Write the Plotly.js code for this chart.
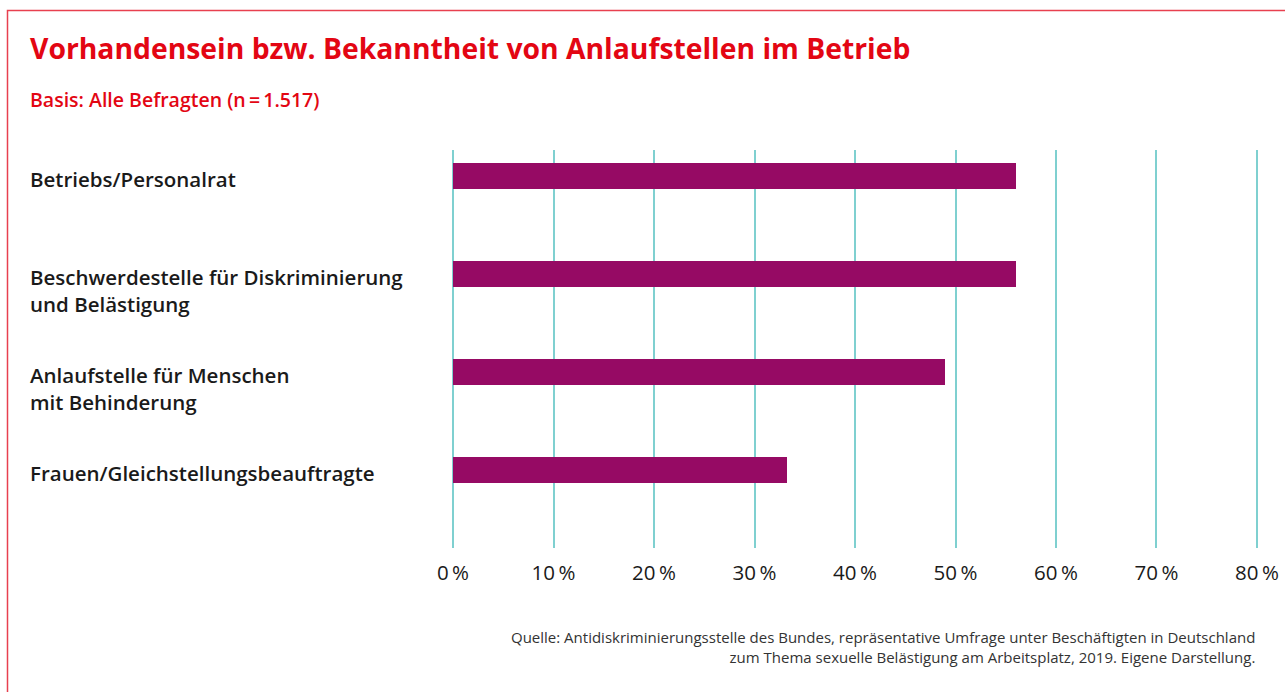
<!DOCTYPE html>
<html>
<head>
<meta charset="utf-8">
<script src="https://cdn.plot.ly/plotly-3.0.1.min.js"></script>
<style>
html,body{margin:0;padding:0;background:#fff;}
#chart{width:1285px;height:692px;}
</style>
</head>
<body>
<div id="chart"></div>
<script>
const categories = [
  "Betriebs/Personalrat",
  "Beschwerdestelle für Diskriminierung<br>und Belästigung",
  "Anlaufstelle für Menschen<br>mit Behinderung",
  "Frauen/Gleichstellungsbeauftragte"
];
const values = [56, 56, 49, 33.2];
const tickVals = [0, 10, 20, 30, 40, 50, 60, 70, 80];
const tickLabels = ["0\u2009%", "10\u2009%", "20\u2009%", "30\u2009%", "40\u2009%", "50\u2009%", "60\u2009%", "70\u2009%", "80\u2009%"];
const titleText = "Vorhandensein bzw. Bekanntheit von Anlaufstellen im Betrieb";
const subtitleText = "Basis: Alle Befragten (n\u2009=\u20091.517)";
const sourceText = "Quelle: Antidiskriminierungsstelle des Bundes, repräsentative Umfrage unter Beschäftigten in Deutschland<br>zum Thema sexuelle Belästigung am Arbeitsplatz, 2019. Eigene Darstellung.";

const W = 1285, H = 692;
const ml = 450, mr = 25, mt = 150, mb = 144;
const pw = W - ml - mr, ph = H - mt - mb;
const px = x => (x - ml) / pw;
const py = y => (H - mb - y) / ph;

const idx = categories.map((c, i) => i);

const trace = {
  type: 'bar',
  orientation: 'h',
  x: values,
  y: idx,
  width: 0.265,
  marker: {color: '#960a64', line: {width: 0}},
  hoverinfo: 'skip'
};

const FONT = '"Open Sans", sans-serif';
const labelFont = {family: FONT, size: 20.5, color: '#1a1a1a', weight: 600};

const annotations = categories.map((c, i) => ({
  xref: 'paper', yref: 'y',
  x: px(28), y: i,
  xanchor: 'left', yanchor: 'top', align: 'left',
  yshift: 13,
  text: c,
  showarrow: false,
  font: labelFont
}));

annotations.push({
  xref: 'paper', yref: 'paper', x: px(28), y: py(48),
  xanchor: 'left', yanchor: 'middle', align: 'left', showarrow: false,
  text: titleText,
  font: {family: FONT, size: 28.3, color: '#e30613', weight: 700}
});
annotations.push({
  xref: 'paper', yref: 'paper', x: px(28), y: py(99),
  xanchor: 'left', yanchor: 'middle', align: 'left', showarrow: false,
  text: subtitleText,
  font: {family: FONT, size: 19.5, color: '#e30613', weight: 600}
});
annotations.push({
  xref: 'paper', yref: 'paper', x: px(1257), y: py(625),
  xanchor: 'right', yanchor: 'top', align: 'right', showarrow: false,
  text: sourceText,
  font: {family: FONT, size: 15, color: '#333333'}
});

const layout = {
  width: W, height: H,
  margin: {l: ml, r: mr, t: mt, b: mb, pad: 0},
  paper_bgcolor: '#ffffff', plot_bgcolor: '#ffffff',
  showlegend: false,
  xaxis: {
    range: [-0.3, 80.3],
    tickvals: tickVals, ticktext: tickLabels,
    showgrid: true, gridcolor: '#7fd0d0', gridwidth: 2,
    zeroline: false, showline: false,
    ticks: '', ticklabelstandoff: 10,
    tickfont: {family: FONT, size: 20.5, color: '#1a1a1a'},
    fixedrange: true
  },
  yaxis: {
    type: 'linear',
    range: [3.796, -0.265],
    showgrid: false, zeroline: false, showline: false,
    showticklabels: false, ticks: '',
    fixedrange: true
  },
  annotations: annotations,
  shapes: [{
    type: 'rect', xref: 'paper', yref: 'paper',
    x0: px(7.5), x1: px(1300), y0: py(710), y1: py(10.5),
    line: {color: '#e8404f', width: 1.5}, fillcolor: 'rgba(0,0,0,0)', layer: 'above'
  }],
  bargap: 0
};

Plotly.newPlot('chart', [trace], layout, {displayModeBar: false, staticPlot: true});
</script>
</body>
</html>
